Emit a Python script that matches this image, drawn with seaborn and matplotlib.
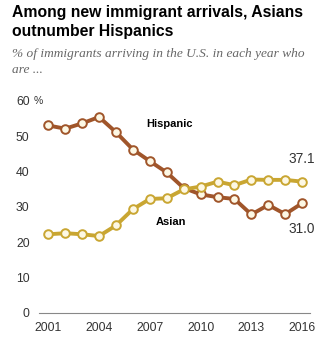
import matplotlib
matplotlib.use("Agg")
import matplotlib.pyplot as plt
import matplotlib.transforms as mtransforms
import pandas as pd
import seaborn as sns

years = list(range(2001, 2017))
hispanic = [53.0, 52.1, 53.6, 55.4, 51.1, 46.2, 42.9, 39.7, 35.3, 33.5, 32.7, 32.2, 27.8, 30.5, 27.9, 31.0]
asian = [22.2, 22.5, 22.2, 21.7, 24.7, 29.3, 32.2, 32.4, 34.9, 35.7, 37.1, 36.1, 37.7, 37.6, 37.6, 37.1]
xticks = [2001, 2004, 2007, 2010, 2013, 2016]
yticks = [0, 10, 20, 30, 40, 50, 60]

title = "Among new immigrant arrivals, Asians\noutnumber Hispanics"
subtitle = "% of immigrants arriving in the U.S. in each year who\nare ..."

HISP_COLOR = "#a0552a"
ASIAN_COLOR = "#c9a632"
FACE = "#fdf8e4"
TEXT = "#333333"

df = pd.DataFrame({"year": years * 2,
                   "pct": hispanic + asian,
                   "group": ["Hispanic"] * len(years) + ["Asian"] * len(years)})

sns.set_style("white")
plt.rcParams["font.family"] = ["Liberation Sans", "DejaVu Sans"]

fig = plt.figure(figsize=(3.29, 3.42), dpi=100)
ax = fig.add_axes([0.1195, 0.0857, 0.8225, 0.630])

for name, color in [("Hispanic", HISP_COLOR), ("Asian", ASIAN_COLOR)]:
    sns.lineplot(data=df[df.group == name], x="year", y="pct", ax=ax,
                 color=color, linewidth=2.8, marker="o", markersize=6.2,
                 markerfacecolor=FACE, markeredgecolor=color,
                 markeredgewidth=1.4, legend=False)

ax.set_xlim(2000.47, 2016.46)
ax.set_ylim(0, 61)
ax.set_xticks(xticks)
ax.set_yticks(yticks)
ax.set_xticklabels([str(x) for x in xticks])
ax.set_yticklabels([str(y) for y in yticks])
ax.set_xlabel("")
ax.set_ylabel("")
ax.tick_params(axis="both", length=0, labelsize=8.8, colors=TEXT)
ax.tick_params(axis="y", pad=7)
ax.tick_params(axis="x", pad=7)
for side in ["top", "right", "left"]:
    ax.spines[side].set_visible(False)
ax.spines["bottom"].set_color("#888888")
ax.spines["bottom"].set_linewidth(0.8)

# "%" unit mark beside the top y tick
trans = mtransforms.blended_transform_factory(ax.transAxes, ax.transData)
ax.text(-0.005, 60, "%", transform=trans, ha="center", va="center",
        fontsize=7.5, color=TEXT)

# Series labels
ax.text(2008.14, 53.3, "Hispanic", ha="center", va="center",
        fontsize=8, fontweight="bold", color="black")
ax.text(2008.26, 25.7, "Asian", ha="center", va="center",
        fontsize=8, fontweight="bold", color="black")

# End-point value labels
ax.text(2016, asian[-1] + 6.4, f"{asian[-1]:.1f}", ha="center", va="center",
        fontsize=9.8, color=TEXT)
ax.text(2016, hispanic[-1] - 7.4, f"{hispanic[-1]:.1f}", ha="center", va="center",
        fontsize=9.8, color=TEXT)

fig.text(12 / 329, 1 - 5 / 342, title, ha="left", va="top",
         fontsize=11.3, fontweight="bold", color="black", linespacing=1.3)
fig.text(12 / 329, 1 - 48 / 342, subtitle, ha="left", va="top",
         fontsize=9.6, fontstyle="italic", color="#666666",
         family=["Liberation Serif", "DejaVu Serif"], linespacing=1.4)

fig.savefig("out.png", dpi=100)
